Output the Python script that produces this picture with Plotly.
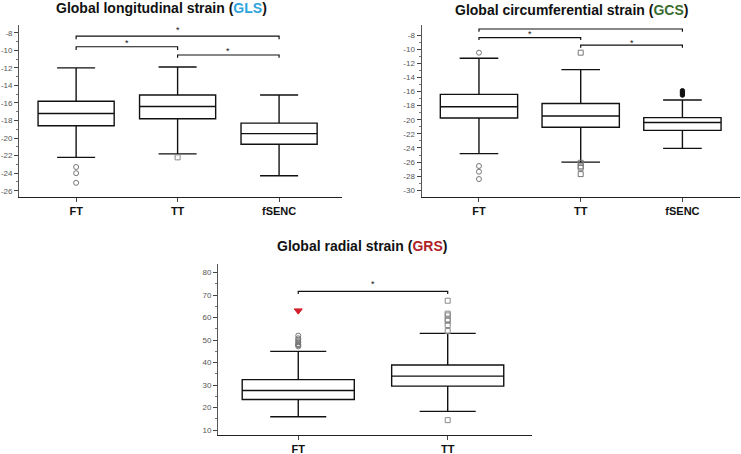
import plotly.graph_objects as go

FONT = "Liberation Sans, Arial, sans-serif"

# ---------------- data ----------------
cats3 = ["FT", "TT", "fSENC"]
cats2 = ["FT", "TT"]

gls_q1 = [-18.6, -17.8, -20.7]
gls_med = [-17.2, -16.4, -19.5]
gls_q3 = [-15.8, -15.1, -18.3]
gls_lo = [-22.2, -21.8, -24.3]
gls_hi = [-12.0, -11.9, -15.1]
gls_out_ft = [-23.3, -24.0, -25.1]
gls_out_tt = [-22.2]

gcs_q1 = [-19.76, -21.07, -21.5]
gcs_med = [-18.15, -19.47, -20.4]
gcs_q3 = [-16.4, -17.7, -19.7]
gcs_lo = [-24.8, -26.0, -24.05]
gcs_hi = [-11.3, -12.9, -17.2]
gcs_out_ft = [-10.5, -26.55, -27.36, -28.4]
gcs_out_tt = [-10.5, -26.1, -26.6, -26.8, -27.7]
gcs_out_fs = [-15.9, -16.2, -16.5]

grs_q1 = [23.6, 29.55]
grs_med = [27.6, 34.0]
grs_q3 = [32.4, 38.9]
grs_lo = [15.9, 18.3]
grs_hi = [45.0, 53.0]
grs_out_ft = [52.0, 50.8, 50.2, 49.5, 49.0, 48.2, 47.8, 47.8, 47.2]
grs_out_ft_extreme = [63.1]
grs_out_tt = [67.5, 61.75, 61.0, 59.2, 58.6, 56.7, 54.0, 14.4]

# significance brackets: (from, to, line level, tick end level, star level)
gls_brackets = [("FT", "fSENC", -8.38, -8.75, -7.69),
                ("FT", "TT", -9.6, -9.97, -9.14),
                ("TT", "fSENC", -10.54, -10.85, -10.08)]
gcs_brackets = [("FT", "fSENC", -7.15, -7.53, -6.38),
                ("FT", "TT", -8.38, -8.71, -7.86),
                ("TT", "fSENC", -9.42, -9.8, -9.09)]
grs_brackets = [("FT", "TT", 71.7, 70.5, 74.8)]

gls_ticks = list(range(-26, -7, 2))
gcs_ticks = list(range(-30, -7, 2))
grs_ticks = list(range(10, 81, 10))

fig = go.Figure()

def add_boxes(cats, q1, med, q3, lo, hi, xa, ya, width):
    fig.add_trace(go.Box(
        x=cats, q1=q1, median=med, q3=q3, lowerfence=lo, upperfence=hi,
        xaxis=xa, yaxis=ya, width=width, whiskerwidth=0.5,
        fillcolor="white", line=dict(color="#111111", width=1.4),
        boxpoints=False, showlegend=False, hoverinfo="skip"))

def add_points(cat, vals, xa, ya, symbol, color, size, fill=None):
    fig.add_trace(go.Scatter(
        x=[cat] * len(vals), y=vals, mode="markers", xaxis=xa, yaxis=ya,
        marker=dict(symbol=symbol, size=size,
                    color=fill if fill else color,
                    line=dict(color=color, width=1)),
        showlegend=False, hoverinfo="skip", cliponaxis=False))

def add_brackets(brackets, cats, xa, ya):
    ann = []
    for c1, c2, lvl, tk, st in brackets:
        fig.add_trace(go.Scatter(
            x=[c1, c1, c2, c2], y=[tk, lvl, lvl, tk], mode="lines",
            xaxis=xa, yaxis=ya, line=dict(color="#111111", width=1.2),
            showlegend=False, hoverinfo="skip", cliponaxis=False))
        xm = (cats.index(c1) + cats.index(c2)) / 2
        ann.append(dict(x=xm, y=st, xref=xa, yref=ya, text="*", showarrow=False,
                        font=dict(family=FONT, size=9, color="#111111"),
                        yanchor="middle", xanchor="center"))
    return ann

# GLS
add_boxes(cats3, gls_q1, gls_med, gls_q3, gls_lo, gls_hi, "x", "y", 0.75)
add_points("FT", gls_out_ft, "x", "y", "circle-open", "#777777", 5)
add_points("TT", gls_out_tt, "x", "y", "square-open", "#888888", 5)
ann = add_brackets(gls_brackets, cats3, "x", "y")

# GCS
add_boxes(cats3, gcs_q1, gcs_med, gcs_q3, gcs_lo, gcs_hi, "x2", "y2", 0.76)
add_points("FT", gcs_out_ft, "x2", "y2", "circle-open", "#777777", 5)
add_points("TT", gcs_out_tt, "x2", "y2", "square-open", "#777777", 5)
add_points("fSENC", gcs_out_fs, "x2", "y2", "circle", "#111111", 4.5, fill="#111111")
ann += add_brackets(gcs_brackets, cats3, "x2", "y2")

# GRS
add_boxes(cats2, grs_q1, grs_med, grs_q3, grs_lo, grs_hi, "x3", "y3", 0.75)
add_points("FT", grs_out_ft, "x3", "y3", "circle-open", "#777777", 5)
add_points("FT", grs_out_ft_extreme, "x3", "y3", "triangle-down", "#d4202c", 7, fill="#d4202c")
add_points("TT", grs_out_tt, "x3", "y3", "square-open", "#888888", 5)
ann += add_brackets(grs_brackets, cats2, "x3", "y3")

# titles
titles = [
    ("Global longitudinal strain (", "GLS", "#2ea3dc", 0.2182, 1 - 8 / 454),
    ("Global circumferential strain (", "GCS", "#3b6b2e", 0.771, 1 - 10 / 454),
    ("Global radial strain (", "GRS", "#b01f2a", 0.4881, 1 - 246 / 454),
]
for pre, abbr, col, tx, ty in titles:
    ann.append(dict(x=tx, y=ty, xref="paper", yref="paper", showarrow=False,
                    text=f"<b>{pre}<span style='color:{col}'>{abbr}</span>)</b>",
                    font=dict(family=FONT, size=14, color="#111111"),
                    xanchor="center", yanchor="middle"))

def xaxis(domain, anchor, rng, cats):
    return dict(domain=domain, anchor=anchor, type="category", range=rng,
                categoryorder="array", categoryarray=cats,
                showline=True, linecolor="#222222", linewidth=1.4,
                ticks="outside", ticklen=4, tickcolor="#444444", tickwidth=1,
                tickfont=dict(family=FONT, size=11, color="#111111"),
                tickprefix="<b>", ticksuffix="</b>",
                showgrid=False, zeroline=False, fixedrange=True)

def yaxis(domain, anchor, rng, ticks, minor_step):
    minor_vals = [t + minor_step for t in ticks[:-1]]
    return dict(domain=domain, anchor=anchor, range=rng,
                tickmode="array", tickvals=ticks, ticktext=[str(t) for t in ticks],
                showline=True, linecolor="#555555", linewidth=1.4,
                ticks="outside", ticklen=4, tickcolor="#444444", tickwidth=1,
                minor=dict(tickvals=minor_vals, ticks="outside", ticklen=2,
                           tickcolor="#777777", showgrid=False),
                tickfont=dict(family=FONT, size=8, color="#555555"),
                showgrid=False, zeroline=False, fixedrange=True)

W, H = 741, 454
fig.update_layout(
    width=W, height=H, margin=dict(l=0, r=0, t=0, b=0),
    paper_bgcolor="white", plot_bgcolor="white",
    xaxis=xaxis([19.3 / W, 342 / W], "y", [-0.56, 2.62], cats3),
    yaxis=yaxis([1 - 196.7 / H, 1 - 25 / H], "x", [-26.68, -7.12], gls_ticks, 1),
    xaxis2=xaxis([421.7 / W, 740 / W], "y2", [-0.563, 2.566], cats3),
    yaxis2=yaxis([1 - 196.7 / H, 1 - 25 / H], "x2", [-30.9, -6.58], gcs_ticks, 1),
    xaxis3=xaxis([218.3 / W, 531.7 / W], "y3", [-0.535, 1.562], cats2),
    yaxis3=yaxis([1 - 435 / H, 1 - 264.3 / H], "x3", [7.8, 83.7], grs_ticks, 5),
    annotations=ann,
)

fig.write_html("out.html")
